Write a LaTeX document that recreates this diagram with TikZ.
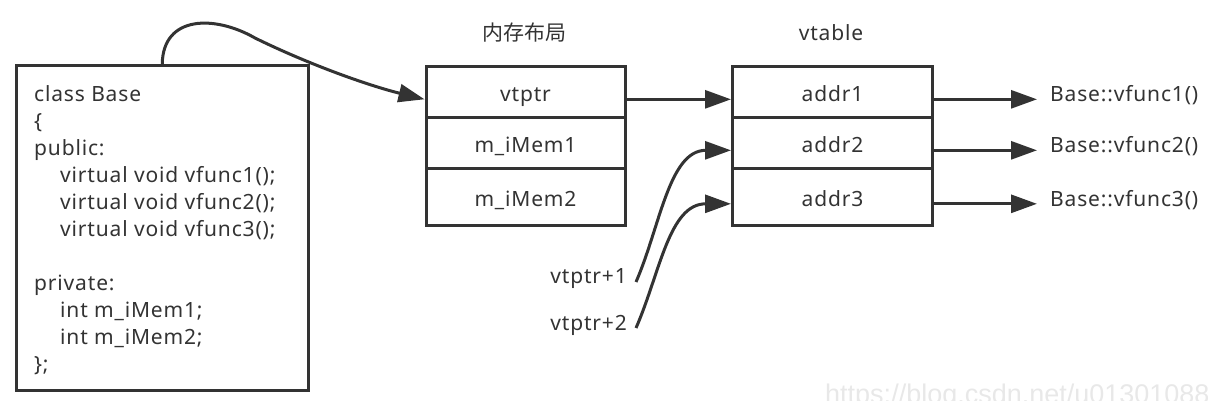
\documentclass[tikz,border=0pt]{standalone}
\usepackage{fontspec}
\setmainfont{Noto Sans}[LetterSpace=4]
\newfontfamily\cjk{Noto Sans CJK SC}
\newfontfamily\wmfont{Liberation Sans}
\usetikzlibrary{arrows.meta}
\definecolor{ink}{HTML}{333333}
\definecolor{wmgray}{HTML}{E8E8E8}
\begin{document}
\begin{tikzpicture}[x=1pt,y=-1pt,
  every node/.style={text=ink, font=\fontsize{21}{27}\selectfont},
  cell/.style={draw=ink, line width=3pt, inner sep=0pt, anchor=north west,
    text height=19pt, text depth=0pt},
  memcell/.style={cell, minimum width=199pt},
  vtcell/.style={cell, minimum width=200pt},
  conn/.style={draw=ink, line width=3pt, -{Triangle[length=26pt,width=18pt]}},
]
\useasboundingbox (0,0) rectangle (1208,401);
\clip (0,0) rectangle (1208,401);

% class box
\node[draw=ink, line width=3pt, minimum width=291.5pt, minimum height=324.5pt, inner sep=0pt] (cls) at (162.25,227.75) {};
\node[anchor=north west, align=left, inner sep=0pt] (code) at (34,85) {class Base\\
\{\\
public:\\
\hspace*{26pt}virtual void vfunc1();\\
\hspace*{26pt}virtual void vfunc2();\\
\hspace*{26pt}virtual void vfunc3();\\[27pt]
private:\\
\hspace*{26pt}int m\_iMem1;\\
\hspace*{26pt}int m\_iMem2;\\
\};};

% titles
\node (lmem) at (524,33) {\cjk 内存布局};
\node (lvt) at (831,33) {vtable};

% memory layout
\node[memcell, minimum height=51pt] (m1) at (424.5,65.5) {vtptr};
\node[memcell, minimum height=51pt] (m2) at (424.5,116.5) {m\_iMem1};
\node[memcell, minimum height=56pt] (m3) at (424.5,167.5) {m\_iMem2};

% vtable
\node[vtcell, minimum height=51pt] (v1) at (731,65.5) {addr1};
\node[vtcell, minimum height=51pt] (v2) at (731,116.5) {addr2};
\node[vtcell, minimum height=56pt] (v3) at (731,167.5) {addr3};

% function labels
\coordinate (fx) at (1037,0);
\node[anchor=mid west, inner xsep=13pt, inner ysep=0pt] (f1) at (fx |- v1.mid east) {Base::vfunc1()};
\node[anchor=mid west, inner xsep=13pt, inner ysep=0pt] (f2) at (fx |- v2.mid east) {Base::vfunc2()};
\node[anchor=mid west, inner xsep=13pt, inner ysep=0pt] (f3) at (fx |- v3.mid east) {Base::vfunc3()};

% pointer labels
\node[anchor=east, inner xsep=9pt, inner ysep=0pt] (p1) at (636,279) {vtptr+1};
\node[anchor=east, inner xsep=9pt, inner ysep=0pt] (p2) at (636,325) {vtptr+2};

% connectors
\draw[conn] (cls.north) .. controls (163,15) and (215,15) .. (255,38)
  .. controls (310,65) and (370,86) .. (m1.mid west);
\draw[conn] (m1.mid east) -- (v1.mid west);
\draw[conn] ([yshift=-3pt]p1.east) .. controls +(24,-55) and +(-62,0) .. (v2.mid west);
\draw[conn] ([yshift=-3pt]p2.east) .. controls +(24,-55) and +(-62,0) .. (v3.mid west);
\draw[conn] (v1.mid east) -- (f1.mid west);
\draw[conn] (v2.mid east) -- (f2.mid west);
\draw[conn] (v3.mid east) -- (f3.mid west);

% watermark
\node[anchor=base west, inner sep=0pt, text=wmgray, font=\wmfont\fontsize{27}{27}\selectfont] (wm) at (825,403) {https://blog.csdn.net/u013010888};
\end{tikzpicture}
\end{document}
